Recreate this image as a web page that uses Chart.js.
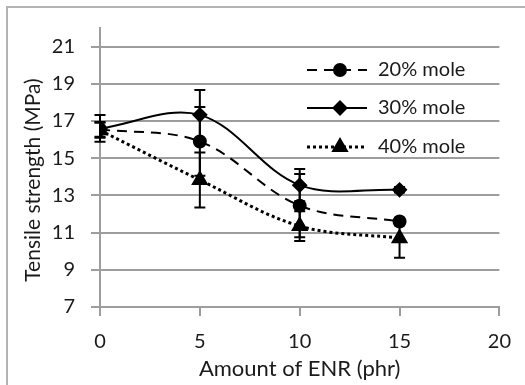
<!DOCTYPE html>
<html><head><meta charset="utf-8">
<script src="https://cdn.jsdelivr.net/npm/chart.js@4/dist/chart.umd.min.js"></script>
<style>html,body{margin:0;padding:0;background:#fff}canvas{display:block}</style>
</head><body>
<canvas id="c" width="525" height="385"></canvas>
<script>
const xValues = [0, 5, 10, 15];
const xTicks = [0, 5, 10, 15, 20];
const yTicks = [7, 9, 11, 13, 15, 17, 19, 21];
const seriesNames = ['20% mole', '30% mole', '40% mole'];
const mole20 = [16.55, 15.9, 12.45, 11.6];
const mole20Err = [0.4, 1.85, 1.7, 0.2];
const mole30 = [16.6, 17.33, 13.55, 13.3];
const mole30Err = [0.72, 1.33, 0.87, 0.15];
const mole40 = [16.5, 13.83, 11.35, 10.7];
const mole40Err = [0.4, 1.48, 0.8, 1.05];
const xTitle = 'Amount of ENR (phr)';
const yTitle = 'Tensile strength (MPa)';

const TXT = '#1a1a1a';
const GRID = '#9d9d9d';
const FONT = 'Lato';

function pts(vals) { return xValues.map((x, i) => ({ x: x, y: vals[i] })); }

const errors = [mole20Err, mole30Err, mole40Err];

const errorBars = {
  id: 'errorBars',
  afterDatasetsDraw(chart) {
    const ctx = chart.ctx, xs = chart.scales.x, ys = chart.scales.y;
    ctx.save();
    ctx.strokeStyle = '#000';
    ctx.lineWidth = 2;
    chart.data.datasets.forEach((ds, di) => {
      ds.data.forEach((p, i) => {
        const e = errors[di][i];
        const px = xs.getPixelForValue(p.x);
        const top = ys.getPixelForValue(p.y + e);
        const bot = ys.getPixelForValue(p.y - e);
        ctx.beginPath();
        ctx.moveTo(px, top); ctx.lineTo(px, bot);
        ctx.moveTo(px - 5.5, top); ctx.lineTo(px + 5.5, top);
        ctx.moveTo(px - 5.5, bot); ctx.lineTo(px + 5.5, bot);
        ctx.stroke();
      });
    });
    ctx.restore();
  }
};

const decor = {
  id: 'decor',
  beforeDraw(chart) {
    const ctx = chart.ctx;
    ctx.save();
    ctx.fillStyle = '#fff';
    ctx.fillRect(0, 0, chart.width, chart.height);
    ctx.strokeStyle = '#b3b3b3';
    ctx.lineWidth = 2;
    ctx.strokeRect(7, 7, 600, 600);
    ctx.restore();
  },
  afterDraw(chart) {
    const ctx = chart.ctx;
    ctx.save();
    ctx.fillStyle = TXT;
    ctx.font = '21px ' + FONT;
    ctx.textAlign = 'center';
    ctx.textBaseline = 'middle';
    ctx.translate(33.5, 180);
    ctx.rotate(-Math.PI / 2);
    ctx.fillText(yTitle, 0, 0);
    ctx.restore();

    const rows = [70, 108, 147];
    chart.data.datasets.forEach((ds, i) => {
      const y = rows[i];
      ctx.save();
      ctx.strokeStyle = '#000';
      ctx.lineWidth = ds.borderWidth;
      ctx.setLineDash(ds.borderDash || []);
      ctx.beginPath();
      ctx.moveTo(307, y); ctx.lineTo(367, y);
      ctx.stroke();
      ctx.setLineDash([]);
      Chart.helpers.drawPoint(ctx, {
        pointStyle: ds.pointStyle, radius: ds.pointRadius, rotation: 0, borderWidth: 1
      }, 340, y);
      ctx.fillStyle = '#000';
      ctx.fill();
      ctx.fillStyle = TXT;
      ctx.font = '20px ' + FONT;
      ctx.textAlign = 'left';
      ctx.textBaseline = 'middle';
      ctx.fillText(ds.label, 378, y);
      ctx.restore();
    });
  }
};

const common = {
  borderColor: '#000', backgroundColor: '#000',
  pointBackgroundColor: '#000', pointBorderColor: '#000',
  borderWidth: 2, tension: 0.35, fill: false
};

new Chart(document.getElementById('c'), {
  type: 'line',
  data: {
    datasets: [
      Object.assign({}, common, { label: seriesNames[0], data: pts(mole20), borderDash: [10, 7], pointStyle: 'circle', pointRadius: 6 }),
      Object.assign({}, common, { label: seriesNames[1], data: pts(mole30), pointStyle: 'rectRot', pointRadius: 6.5 }),
      Object.assign({}, common, { label: seriesNames[2], data: pts(mole40), borderDash: [3, 3], borderWidth: 3, pointStyle: 'triangle', pointRadius: 7 })
    ]
  },
  options: {
    responsive: false, animation: false, devicePixelRatio: 1,
    layout: { padding: { left: 0, right: 25, top: 24, bottom: 0 } },
    plugins: { legend: { display: false }, tooltip: { enabled: false } },
    scales: {
      x: {
        type: 'linear', min: 0, max: 20,
        afterBuildTicks(a) { a.ticks = xTicks.map(v => ({ value: v })); },
        afterFit(s) { s.height = 78; },
        grid: { drawOnChartArea: false, drawTicks: true, tickLength: 9, color: GRID, lineWidth: 2 },
        border: { color: GRID, width: 2 },
        ticks: { color: TXT, font: { family: FONT, size: 20 }, padding: 14, maxRotation: 0 },
        title: { display: true, text: xTitle, color: TXT, font: { family: FONT, size: 22 }, padding: { top: 0, bottom: 3 } }
      },
      y: {
        type: 'linear', min: 7, max: 22,
        afterBuildTicks(a) { a.ticks = yTicks.map(v => ({ value: v })); },
        afterFit(s) { s.width = 100; },
        grid: { drawOnChartArea: true, drawTicks: true, tickLength: 9, color: GRID, lineWidth: 2 },
        border: { color: GRID, width: 2 },
        ticks: { color: TXT, font: { family: FONT, size: 20 }, padding: 16 }
      }
    }
  },
  plugins: [errorBars, decor]
});
</script>
</body></html>
